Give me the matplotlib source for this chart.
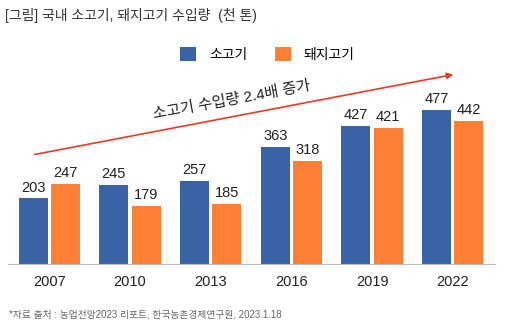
import matplotlib
matplotlib.use("Agg")
import matplotlib.pyplot as plt
import numpy as np

plt.rcParams['font.family'] = ['Liberation Sans', 'Noto Sans CJK KR', 'DejaVu Sans']

years = ['2007', '2010', '2013', '2016', '2019', '2022']
beef = [203, 245, 257, 363, 427, 477]
pork = [247, 179, 185, 318, 421, 442]

blue = '#3A63A5'
orange = '#FF7F35'

fig = plt.figure(figsize=(5.14, 3.35), dpi=100)
ax = fig.add_axes([0.0156, 0.212, 0.947, 0.61])

x = np.arange(len(years))
w = 0.36
ax.bar(x - 0.2, beef, w, color=blue, label='소고기')
ax.bar(x + 0.2, pork, w, color=orange, label='돼지고기')

for i in range(len(years)):
    ax.text(x[i] - 0.2, beef[i] + 12, str(beef[i]), ha='center', va='bottom', fontsize=10.5, color='#222222')
    ax.text(x[i] + 0.2, pork[i] + 12, str(pork[i]), ha='center', va='bottom', fontsize=10.5, color='#222222')

ax.set_xlim(-0.51, 5.52)
ax.set_ylim(0, 633)
ax.set_xticks(x)
ax.set_xticklabels(years, fontsize=10.5, color='#222222')
ax.tick_params(axis='x', length=0, pad=8)
ax.set_yticks([])
for s in ['top', 'right', 'left']:
    ax.spines[s].set_visible(False)
ax.spines['bottom'].set_color('#BBBBBB')

# title
fig.text(0.01, 0.955, '[그림] 국내 소고기, 돼지고기 수입량  (천 톤)', fontsize=10, color='#333333', va='center')

# legend
leg = fig.legend(loc='center', bbox_to_anchor=(0.52, 0.838), ncol=2, frameon=False,
                 fontsize=10, handlelength=1.15, handleheight=1.15, columnspacing=2.0, handletextpad=0.9)

# trend arrow
fig.patches.append(matplotlib.patches.FancyArrowPatch(
    (32 / 514, 1 - 155 / 335), (456 / 514, 1 - 74 / 335), transform=fig.transFigure,
    arrowstyle='-|>', mutation_scale=9, color='#E0402A', lw=1.2))
fig.text(232 / 514, 1 - 101 / 335, '소고기 수입량 2.4배 증가', fontsize=11, rotation=10.5,
         ha='center', va='center', color='#222222', rotation_mode='anchor')

fig.text(0.018, 0.06, '*자료 출처 : 농업전망2023 리포트, 한국농촌경제연구원, 2023.1.18', fontsize=7, color='#666666', va='center')

fig.savefig('out.png', dpi=100)
